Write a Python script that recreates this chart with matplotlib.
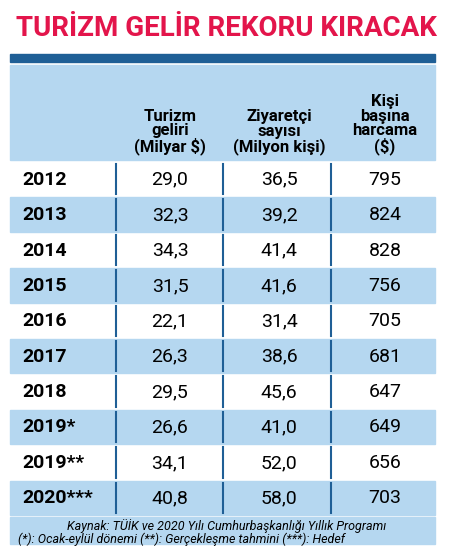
import matplotlib
matplotlib.use("Agg")
import matplotlib.pyplot as plt
from matplotlib.patches import Rectangle

plt.rcParams["font.family"] = ["Roboto", "Liberation Sans", "DejaVu Sans"]

title = "TURİZM GELİR REKORU KIRACAK"
headers = ["Turizm\ngeliri\n(Milyar $)", "Ziyaretçi\nsayısı\n(Milyon kişi)", "Kişi\nbaşına\nharcama\n($)"]
years = ["2012", "2013", "2014", "2015", "2016", "2017", "2018", "2019*", "2019**", "2020***"]
gelir = ["29,0", "32,3", "34,3", "31,5", "22,1", "26,3", "29,5", "26,6", "34,1", "40,8"]
ziyaretci = ["36,5", "39,2", "41,4", "41,6", "31,4", "38,6", "45,6", "41,0", "52,0", "58,0"]
harcama = ["795", "824", "828", "756", "705", "681", "647", "649", "656", "703"]
notes = ["Kaynak: TÜİK ve 2020 Yılı Cumhurbaşkanlığı Yıllık Programı",
         "(*): Ocak-eylül dönemi (**): Gerçekleşme tahmini (***): Hedef"]

W, H = 453, 546
LIGHT = "#b5d7f0"
DARK = "#1f5f96"
RED = "#e3154b"

fig = plt.figure(figsize=(W / 100, H / 100), dpi=100)
ax = fig.add_axes([0, 0, 1, 1])
ax.set_xlim(0, W)
ax.set_ylim(H, 0)
ax.axis("off")

ax.text(W / 2, 29, title, color=RED, fontsize=20, fontweight="bold",
        ha="center", va="center")
ax.add_patch(Rectangle((10, 54), 425, 8, color=DARK))
ax.add_patch(Rectangle((10, 65), 425, 95, color=LIGHT))

col_x = [170, 279, 385]
divs = [116, 223, 331]
for x, h in zip(col_x, headers):
    ax.text(x, 155, h, fontsize=12, fontweight="bold", ha="center", va="bottom",
            linespacing=0.95)

top, rh = 162, 35.4
for i, (y, g, z, c) in enumerate(zip(years, gelir, ziyaretci, harcama)):
    y0 = top + i * rh
    if i % 2 == 1:
        ax.add_patch(Rectangle((10, y0), 425, rh - 1, color=LIGHT))
    yc = y0 + rh / 2
    ax.text(22, yc, y, fontsize=14, fontweight="bold", ha="left", va="center")
    for x, v in zip(col_x, [g, z, c]):
        ax.text(x, yc, v, fontsize=14, ha="center", va="center")
    for d in divs:
        ax.plot([d, d], [y0 + 2, y0 + rh - 3], color=DARK, lw=1.5)

fy = top + len(years) * rh
ax.add_patch(Rectangle((10, fy + 1), 425, H - fy - 3, color=LIGHT))
ax.text(W / 2, fy + 10, notes[0], fontsize=9, style="italic", ha="center", va="center")
ax.text(18, fy + 23, notes[1], fontsize=9, style="italic", ha="left", va="center")

fig.savefig("out.png", dpi=100)
